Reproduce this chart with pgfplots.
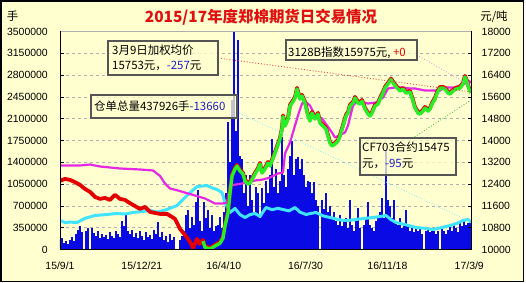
\documentclass[border=0pt]{standalone}
\usepackage{pgfplots}
\pgfplotsset{compat=1.18}
\usepackage{pgfplotstable}
\usepackage{fontspec}
\setmainfont{Liberation Sans}
\newfontfamily\cjk{Noto Sans CJK SC}
\definecolor{bgy}{RGB}{255,255,208}
\definecolor{barblue}{RGB}{10,10,228}
\definecolor{cyanl}{RGB}{64,228,255}
\definecolor{magl}{RGB}{228,40,228}
\definecolor{redl}{RGB}{228,0,0}
\definecolor{greenl}{RGB}{40,238,40}
\definecolor{gridg}{RGB}{175,175,175}
\definecolor{boxg}{RGB}{85,85,85}
\definecolor{txtblue}{RGB}{30,30,200}
\definecolor{titred}{RGB}{222,16,16}

\pgfplotstableread{
u p
0 12496
5 12569
10 12532
15 12450
20 12349
25 12200
30 12092
35 11908
40 11835
45 11870
50 11798
55 11982
60 11835
65 11798
69 11700
73 11615
80 11468
85 11541
90 11358
95 11320
100 11285
107 11285
112 11174
115 11101
120 10734
125 10514
130 10257
133 10037
137 10367
140 10184
143 10330
145 10100
150 10037
155 10150
160 10250
163 10440
165 10881
168 11358
170 12092
172 12716
175 12973
177 13083
180 12900
183 12789
185 12532
188 12422
190 12460
195 12789
198 12973
200 13156
202 12826
205 12973
208 13193
210 13083
215 13560
220 14074
222 14440
223 14900
225 14550
228 14808
230 15285
233 15450
235 15578
237 15909
240 15542
242 15652
245 15395
248 14918
250 14734
252 15028
255 14808
258 14991
260 14661
263 14550
266 14440
268 14184
270 13927
272 13817
275 13890
278 14000
280 14184
283 14550
286 14918
288 15028
290 15285
293 15395
295 15578
298 15395
300 15358
302 15468
305 15175
308 14991
310 14918
312 15028
315 15285
318 15358
320 15542
323 15762
325 15945
328 16092
331 16250
334 16092
337 15945
340 15835
343 15909
346 15762
350 15800
353 15468
355 15211
358 15028
360 14991
363 15101
365 15211
368 15101
370 15175
372 15358
375 15542
377 15762
380 15945
383 15945
385 15909
388 15762
390 15725
393 15835
396 15909
400 15945
403 16092
405 16350
407 16160
409 15909
411 15762
}\pricetab

\pgfplotstableread{
u p
0 13083
20 13083
30 13120
40 13046
60 12973
80 12936
93 12900
100 12700
105 12420
110 12239
118 12165
128 12055
135 11982
145 11872
155 11688
163 11688
167 11725
170 12349
185 12440
195 12532
203 12569
210 12642
218 12789
223 12826
225 13523
230 13927
235 14550
238 14918
242 15358
245 15432
250 15285
255 14918
262 14808
267 14550
272 14294
275 14110
285 14294
288 14550
293 15285
298 15468
303 15400
308 15358
316 15395
323 15578
328 15909
335 15945
342 15945
350 15909
355 15909
365 15835
380 15835
385 15945
395 15945
405 16092
408 16202
411 16129
}\magtab

\pgfplotstableread{
u v
0 466000
5 433000
10 440000
17 433000
25 500000
35 546000
45 560000
57 578000
65 570000
73 594000
82 610000
90 626000
97 600000
107 642000
117 706000
127 867000
137 1010000
147 1027000
152 990000
157 963000
162 915000
165 755000
170 594000
175 660000
180 560000
185 514000
190 560000
195 578000
200 530000
206 674000
212 640000
218 660000
223 642000
229 620000
235 674000
240 600000
246 562000
251 580000
256 594000
263 540000
270 514000
276 490000
283 466000
290 470000
296 482000
305 500000
313 514000
320 530000
326 546000
331 480000
336 433000
345 400000
356 353000
365 340000
373 321000
381 350000
390 385000
397 420000
403 466000
408 482000
411 438000
}\oitab

\begin{document}
\begin{tikzpicture}
\useasboundingbox (0,0) rectangle (526bp,283bp);
\fill[white] (0,0) rectangle (526bp,283bp);
\fill[bgy] (1bp,1bp) rectangle (523.5bp,282bp);

\begin{axis}[
  at={(60bp,33.5bp)}, anchor=south west, scale only axis,
  width=411.5bp, height=218bp,
  xmin=0, xmax=411.5, ymin=0, ymax=3500000,
  axis line style={draw=none},
  xtick={0,81.85,163.7,245.55,327.4,409.25},
  xticklabels={15/9/1,15/12/21,16/4/10,16/7/30,16/11/18,17/3/9},
  xtick style={draw=none},
  xticklabel style={font={\fontsize{10.5}{12}\selectfont}, anchor=north, inner sep=0pt, yshift=-12bp},
  ytick={0,350000,700000,1050000,1400000,1750000,2100000,2450000,2800000,3150000,3500000},
  ytick pos=left, tick align=inside, major tick length=4bp,
  ytick style={black, line width=0.8bp},
  yticklabel style={font={\fontsize{10.5}{12}\selectfont}, anchor=east, inner sep=0pt, xshift=-12bp},
  scaled y ticks=false,
  /pgf/number format/fixed, /pgf/number format/1000 sep={},
  /pgf/number format/assume math mode=true,
  ymajorgrids, major grid style={gridg, dash pattern=on 3bp off 3bp, line width=0.6bp},
]
\addplot[ycomb, draw=barblue, line width=1.9bp, mark=none] coordinates {
(0,150000) (2,180000) (4,110000) (6,140000) (8,90000) (10,160000) (12,200000) (14,130000) (16,250000) (18,320000)
(20,385000) (22,280000) (24,0) (26,300000) (28,350000) (30,0) (32,340000) (34,260000) (36,220000) (38,300000)
(40,180000) (42,250000) (44,200000) (46,230000) (48,170000) (50,280000) (52,220000) (54,190000) (56,300000) (58,250000)
(60,200000) (62,465000) (64,380000) (66,550000) (68,300000) (70,250000) (72,320000) (74,200000) (76,260000) (78,180000)
(80,300000) (82,220000) (84,150000) (86,280000) (88,200000) (90,240000) (92,170000) (94,310000) (96,250000) (98,435000)
(100,200000) (102,280000) (104,150000) (106,220000) (108,120000) (110,250000) (112,160000) (114,200000) (116,0) (118,0)
(120,150000) (122,220000) (124,300000) (126,560000) (128,630000) (130,350000) (132,515000) (134,400000) (136,755000) (138,950000)
(140,450000) (142,300000) (144,755000) (146,500000) (148,630000) (150,350000) (152,550000) (154,300000) (156,385000) (158,400000)
(160,515000) (162,350000) (164,600000) (166,900000) (168,2040000) (170,1400000) (172,2400000) (174,3500000) (176,1900000) (178,3360000)
(180,1500000) (182,1460000) (184,900000) (186,1200000) (188,700000) (190,1190000) (192,800000) (194,600000) (196,1000000) (198,900000)
(200,500000) (202,980000) (204,750000) (206,1100000) (208,900000) (210,1200000) (212,1780000) (214,1000000) (216,1300000) (218,900000)
(220,1100000) (222,1800000) (224,1200000) (226,1000000) (228,1300000) (230,1500000) (232,1750000) (234,1200000) (236,1460000) (238,1480000)
(240,1300000) (242,1460000) (244,1200000) (246,1000000) (248,1100000) (250,1080000) (252,900000) (254,1080000) (256,800000) (258,700000)
(260,0) (262,800000) (264,650000) (266,915000) (268,600000) (270,700000) (272,500000) (274,600000) (276,450000) (278,400000)
(280,550000) (282,380000) (284,450000) (286,500000) (288,350000) (290,790000) (292,400000) (294,300000) (296,450000) (298,660000)
(300,350000) (302,0) (304,400000) (306,500000) (308,755000) (310,400000) (312,350000) (314,300000) (316,450000) (318,500000)
(320,600000) (322,820000) (324,500000) (326,1600000) (328,800000) (330,700000) (332,500000) (334,800000) (336,450000) (338,400000)
(340,500000) (342,350000) (344,400000) (346,630000) (348,400000) (350,300000) (352,350000) (354,280000) (356,380000) (358,300000)
(360,330000) (362,250000) (364,0) (366,300000) (368,320000) (370,280000) (372,350000) (374,300000) (376,250000) (378,300000)
(380,0) (382,350000) (384,300000) (386,250000) (388,320000) (390,380000) (392,300000) (394,400000) (396,350000) (398,280000)
(400,420000) (402,380000) (404,450000) (406,400000) (408,430000) (410,450000)
};
\addplot[cyanl, line width=3bp, line join=round, mark=none] table[x=u, y=v] {\oitab};
\end{axis}

\begin{axis}[
  at={(60bp,33.5bp)}, anchor=south west, scale only axis,
  width=411.5bp, height=218bp,
  xmin=0, xmax=411.5, ymin=10000, ymax=18000,
  hide x axis,
  axis line style={draw=none},
  ytick={10000,10800,11600,12400,13200,14000,14800,15600,16400,17200,18000},
  ytick pos=right, tick align=inside, major tick length=4bp,
  ytick style={black, line width=0.8bp},
  yticklabel style={font={\fontsize{10.5}{12}\selectfont}, anchor=west, inner sep=0pt, xshift=10bp},
  scaled y ticks=false,
  /pgf/number format/fixed, /pgf/number format/1000 sep={},
  /pgf/number format/assume math mode=true,
]
\addplot[magl, line width=2.2bp, line join=round, mark=none] table[x=u, y=p] {\magtab};
\addplot[redl, line width=3.8bp, line join=round, mark=none, yshift=0.6bp] table[x=u, y=p] {\pricetab};
\addplot[greenl, line width=3.4bp, line join=round, mark=none, yshift=-0.6bp, restrict x to domain=143:412] table[x=u, y=p] {\pricetab};
\end{axis}

\begin{scope}[shift={(0,283bp)}, x=1bp, y=-1bp]
  \draw[gridg, line width=0.8bp] (60,31.5) -- (471.5,31.5);
  \draw[black, line width=1bp] (60,31) -- (60,249.5) -- (471.5,249.5) -- (471.5,31);
  \draw[redl!75, line width=0.9bp, dotted] (218,58) -- (471,92);
  \draw[magl!60, line width=0.8bp, dotted] (417,55) -- (471,86);
  \draw[cyanl!70!white, line width=0.8bp, dotted] (237,112) -- (471,222);
  \draw[greenl!80!black, line width=0.8bp, dotted] (410,140) -- (471,100);
  \filldraw[fill=bgy, fill opacity=0.75, draw=boxg, line width=1.5bp] (108,41) rectangle (218,75);
  \filldraw[fill=bgy, fill opacity=0.75, draw=boxg, line width=1.5bp] (91,95) rectangle (237,118);
  \filldraw[fill=bgy, fill opacity=0.75, draw=boxg, line width=1.5bp] (286,40) rectangle (417,60);
  \filldraw[fill=bgy, fill opacity=0.75, draw=boxg, line width=1.5bp] (360,138) rectangle (456,175);
  \begin{scope}[every node/.style={inner sep=0pt, anchor=base west, font={\cjk\fontsize{11.5}{13}\selectfont}}]
    \node at (112,54.5) {3月9日加权均价};
    \node at (112,70) {15753元，\textcolor{txtblue}{-257}元};
    \node at (94,111) {仓单总量437926手\textcolor{txtblue}{-13660}};
    \node at (288,56.5) {3128B指数15975元, \textcolor{redl}{+0}};
    \node at (362,152) {CF703合约15475};
    \node at (362,168) {元，\textcolor{txtblue}{-95}元};
  \end{scope}
  \node[anchor=base, inner sep=0pt, text=titred, font={\cjk\bfseries\fontsize{15.5}{17}\selectfont}] at (261,22.5) {2015/17年度郑棉期货日交易情况};
  \node[anchor=base, inner sep=0pt, font={\cjk\fontsize{11.5}{13}\selectfont}] at (12.5,20.5) {手};
  \node[anchor=base, inner sep=0pt, font={\cjk\fontsize{11.5}{13}\selectfont}] at (494,21) {元/吨};
  \draw[black, line width=1.5bp] (1,1) rectangle (523.5,281.5);
\end{scope}
\end{tikzpicture}
\end{document}
